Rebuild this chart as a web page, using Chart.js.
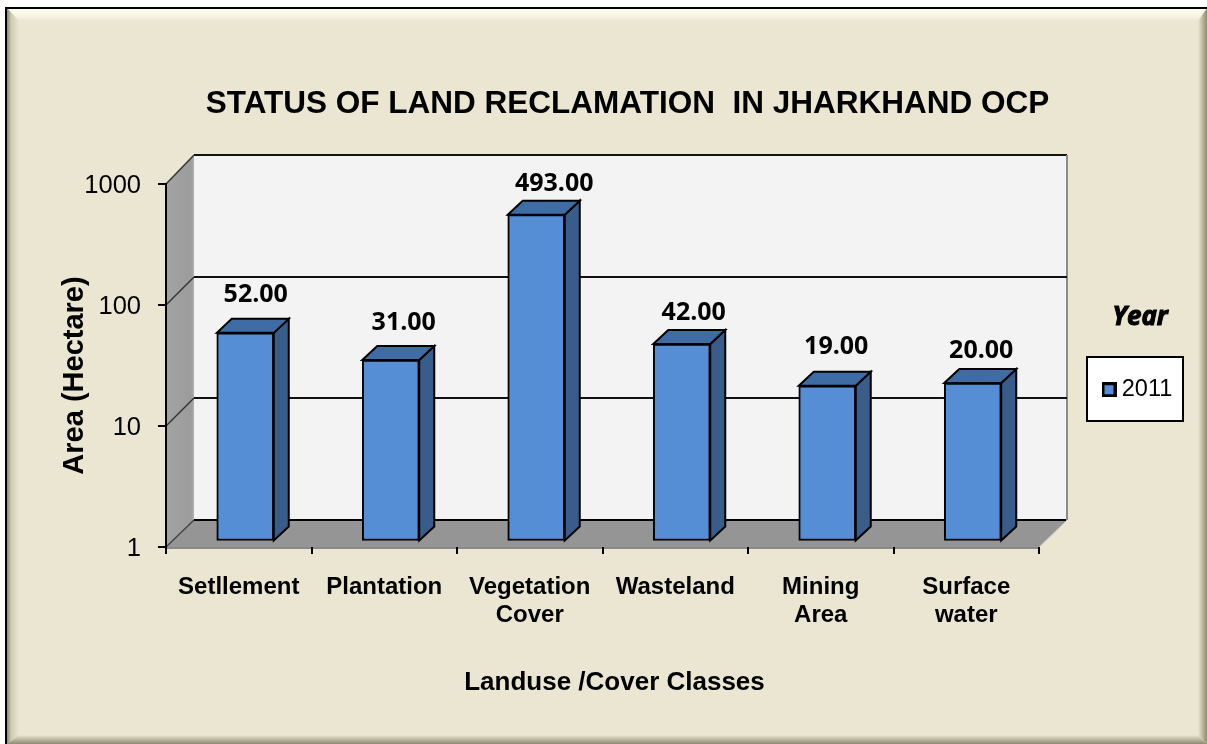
<!DOCTYPE html>
<html>
<head>
<meta charset="utf-8">
<style>html,body{margin:0;padding:0;background:#fff}#w{width:1207px;height:744px;position:relative}canvas{display:block}</style>
<script src="https://cdn.jsdelivr.net/npm/chart.js@4"></script>
</head>
<body>
<div id="w"><canvas id="c" width="1207" height="744"></canvas></div>
<script>
const categories = [['Setllement'], ['Plantation'], ['Vegetation', 'Cover'], ['Wasteland'], ['Mining', 'Area'], ['Surface', 'water']];
const area2011 = [52, 31, 493, 42, 19, 20];
const yTicks = [1, 10, 100, 1000];
const seriesName = '2011';
const legendHeading = 'Year';
const chartTitle = 'STATUS OF LAND RECLAMATION  IN JHARKHAND OCP';
const xTitle = 'Landuse /Cover Classes';
const yTitle = 'Area (Hectare)';

const SANS = '"Liberation Sans", Arial, sans-serif';
const LABEL_FONT = '"Open Sans", sans-serif';
const WALL = 28, WALL_Y = 27;
const BAR_SHIFT_X = 6.5, BAR_SHIFT_Y = -6.5, BAR_DX = 15, BAR_DY = -14;
const LABEL_NUDGE = [[10.5, -37.5], [13, -37], [18, -31], [12, -31], [9, -39], [8.5, -32]];

function poly(ctx, pts, fill, stroke, lw) {
  ctx.beginPath();
  pts.forEach((p, i) => i ? ctx.lineTo(p[0], p[1]) : ctx.moveTo(p[0], p[1]));
  ctx.closePath();
  if (fill) { ctx.fillStyle = fill; ctx.fill(); }
  if (stroke) { ctx.strokeStyle = stroke; ctx.lineWidth = lw || 1; ctx.stroke(); }
}
function line(ctx, a, b, color, lw) {
  ctx.beginPath(); ctx.moveTo(a[0], a[1]); ctx.lineTo(b[0], b[1]);
  ctx.strokeStyle = color; ctx.lineWidth = lw; ctx.stroke();
}
function grad(ctx, x0, y0, x1, y1, stops) {
  const g = ctx.createLinearGradient(x0, y0, x1, y1);
  stops.forEach(s => g.addColorStop(s[0], s[1]));
  return g;
}

function legendMarker() {
  const m = document.createElement('canvas');
  m.width = 15; m.height = 15;
  const c = m.getContext('2d');
  c.fillStyle = '#000'; c.fillRect(0, 0, 15, 15);
  c.fillStyle = '#558ed5'; c.fillRect(3, 3, 9, 9);
  return m;
}

const scenery = {
  id: 'scenery',
  afterLayout(chart) {
    const t = chart.titleBlock;
    t.left = 205; t.right = 1050;
    const l = chart.legend;
    l.left = 1098; l.right = 1183; l.top = 368; l.bottom = 421;
    const xs = chart.scales.x, ys = chart.scales.y;
    const dx = xs.drawTitle, dy = ys.drawTitle;
    if (!xs._nudged) {
      xs._nudged = true;
      xs.drawTitle = function () { const c = this.ctx; c.save(); c.translate(12, 0); dx.call(this); c.restore(); };
      ys.drawTitle = function () { const c = this.ctx; c.save(); c.translate(0, 10); dy.call(this); c.restore(); };
    }
  },
  beforeDraw(chart) {
    const ctx = chart.ctx, W = chart.width, H = chart.height;
    ctx.save();
    // panel
    ctx.fillStyle = '#ebe6d1';
    ctx.fillRect(7, 8, W - 7, H - 8);
    poly(ctx, [[7, 8], [W, 8], [W - 9, 21], [19, 21]], grad(ctx, 0, 8, 0, 21, [[0, '#fffef0'], [0.6, '#f8f5e2'], [1, '#ebe6d1']]));
    poly(ctx, [[7, 8], [19, 21], [19, H - 9], [7, H]], grad(ctx, 7, 0, 19, 0, [[0, '#8e8b72'], [0.35, '#cfcbb5'], [1, '#ebe6d1']]));
    poly(ctx, [[W, 8], [W - 9, 21], [W - 9, H - 9], [W, H]], grad(ctx, W - 9, 0, W, 0, [[0, '#ebe6d1'], [1, '#8e8b72']]));
    poly(ctx, [[7, H], [19, H - 9], [W - 9, H - 9], [W, H]], grad(ctx, 0, H - 9, 0, H, [[0, '#ebe6d1'], [1, '#8e8b72']]));
    line(ctx, [6, 8], [W, 8], '#000', 2);
    line(ctx, [6, 7], [6, H], '#000', 2);

    // 3-D room, positioned from the axes
    const a = chart.chartArea, y = chart.scales.y;
    const L = a.left, R = a.right, T = a.top, B = a.bottom;
    const bx = WALL, by = WALL_Y;
    poly(ctx, [[L + bx, T - by - 2], [R + bx, T - by - 2], [R + bx, B - by], [L + bx, B - by]], '#f3f3f3');
    poly(ctx, [[L, T], [L + bx, T - by - 2], [L + bx, B - by], [L, B]], grad(ctx, L, 0, L + bx, 0, [[0, '#a3a3a3'], [0.9, '#9c9c9c'], [1, '#b0b0b0']]));
    poly(ctx, [[L, B], [L + bx, B - by], [R + bx, B - by], [R, B]], '#959595');
    line(ctx, [L + bx, T - by - 2], [R + bx, T - by - 2], '#111', 2);
    line(ctx, [L, T], [L + bx, T - by - 2], '#333', 1.5);
    line(ctx, [L, B], [L + bx, B - by], '#444', 1.5);
    line(ctx, [L + bx, B - by], [R + bx, B - by], '#000', 2);
    line(ctx, [R + bx, T - by - 2], [R + bx, B - by], '#8c8c8c', 2);
    line(ctx, [L, B + 1], [R, B + 1], '#8a8a8a', 2);
    line(ctx, [R, B], [R + bx, B - by], '#bbb', 1);
    yTicks.slice(1, -1).forEach(v => {
      const p = y.getPixelForValue(v);
      line(ctx, [L, p], [L + bx, p - by - 1], '#333', 1.5);
      line(ctx, [L + bx, p - by - 1], [R + bx, p - by - 1], '#111', 2);
    });

    // legend frame and heading
    ctx.fillStyle = '#fff';
    ctx.fillRect(1087, 357, 96, 64);
    ctx.strokeStyle = '#000'; ctx.lineWidth = 2;
    ctx.strokeRect(1087, 357, 96, 64);
    ctx.fillStyle = '#000'; ctx.textAlign = 'center'; ctx.textBaseline = 'middle';
    ctx.font = 'italic bold 26px ' + LABEL_FONT;
    ctx.strokeStyle = '#000'; ctx.lineWidth = 1;
    ctx.fillText(legendHeading, 1140, 318);
    ctx.strokeText(legendHeading, 1140, 318);
    ctx.restore();
  },
  beforeDatasetsDraw(chart) {
    const ctx = chart.ctx;
    ctx.save();
    ctx.translate(BAR_SHIFT_X, BAR_SHIFT_Y);
    chart.getDatasetMeta(0).data.forEach(b => {
      const l = b.x - b.width / 2, r = b.x + b.width / 2, t = b.y, base = b.base;
      poly(ctx, [[r, t], [r + BAR_DX, t + BAR_DY], [r + BAR_DX, base + BAR_DY], [r, base]], '#385d8a', '#000', 2);
      poly(ctx, [[l, t], [l + BAR_DX, t + BAR_DY], [r + BAR_DX, t + BAR_DY], [r, t]], '#3f6ca4', '#000', 2);
    });
  },
  afterDatasetsDraw(chart) {
    const ctx = chart.ctx;
    ctx.restore();
    ctx.save();
    ctx.fillStyle = '#000'; ctx.textAlign = 'center'; ctx.textBaseline = 'middle';
    ctx.font = 'bold 25px ' + LABEL_FONT;
    chart.getDatasetMeta(0).data.forEach((b, i) => {
      const n = LABEL_NUDGE[i];
      ctx.fillText(area2011[i].toFixed(2), b.x + BAR_SHIFT_X + n[0], b.y + BAR_SHIFT_Y + n[1]);
    });
    ctx.restore();
  }
};

new Chart(document.getElementById('c'), {
  type: 'bar',
  data: {
    labels: categories,
    datasets: [{
      label: seriesName,
      data: area2011,
      backgroundColor: '#558ed5',
      borderColor: '#000',
      borderWidth: 2,
      borderSkipped: false,
      barThickness: 57,
      clip: false
    }]
  },
  plugins: [scenery],
  options: {
    responsive: false,
    animation: false,
    layout: { padding: { left: 0, right: 168, top: 0, bottom: 0 } },
    plugins: {
      title: {
        display: true,
        text: chartTitle,
        color: '#000',
        font: { family: SANS, size: 31.5, weight: 'bold', lineHeight: 1.2 },
        padding: { top: 85, bottom: 61.2 }
      },
      legend: {
        position: 'chartArea',
        align: 'start',
        labels: {
          usePointStyle: true, pointStyle: legendMarker(), pointStyleWidth: 2,
          boxHeight: 13, color: '#000',
          font: { family: SANS, size: 23.5 }
        }
      },
      tooltip: { enabled: false }
    },
    scales: {
      x: {
        afterFit(s) { s.height = 197; },
        grid: { drawOnChartArea: false, drawTicks: true, tickLength: 7, color: '#000', lineWidth: 2 },
        border: { display: false },
        ticks: {
          color: '#000', maxRotation: 0, autoSkip: false, padding: 19,
          font: { family: SANS, size: 24, weight: 'bold', lineHeight: 1.167 }
        },
        title: {
          display: true, text: xTitle, color: '#000',
          font: { family: SANS, size: 26, weight: 'bold', lineHeight: 1.2 },
          padding: { top: 0, bottom: 46 }
        }
      },
      y: {
        type: 'logarithmic',
        min: 1, max: 1000,
        afterFit(s) { s.width = 166; },
        afterBuildTicks(s) { s.ticks = yTicks.map(v => ({ value: v, major: true })); },
        grid: { drawOnChartArea: false, drawTicks: true, tickLength: 8, color: '#000', lineWidth: 2 },
        border: { display: true, color: '#000', width: 2 },
        ticks: {
          color: '#000', padding: 17, labelOffset: 2,
          font: { family: SANS, size: 25.5 },
          callback: v => String(v)
        },
        title: {
          display: true, text: yTitle, color: '#000',
          font: { family: SANS, size: 29, weight: 'bold', lineHeight: 1.2 },
          padding: { top: 58, bottom: 0 }
        }
      }
    }
  }
});
</script>
</body>
</html>
